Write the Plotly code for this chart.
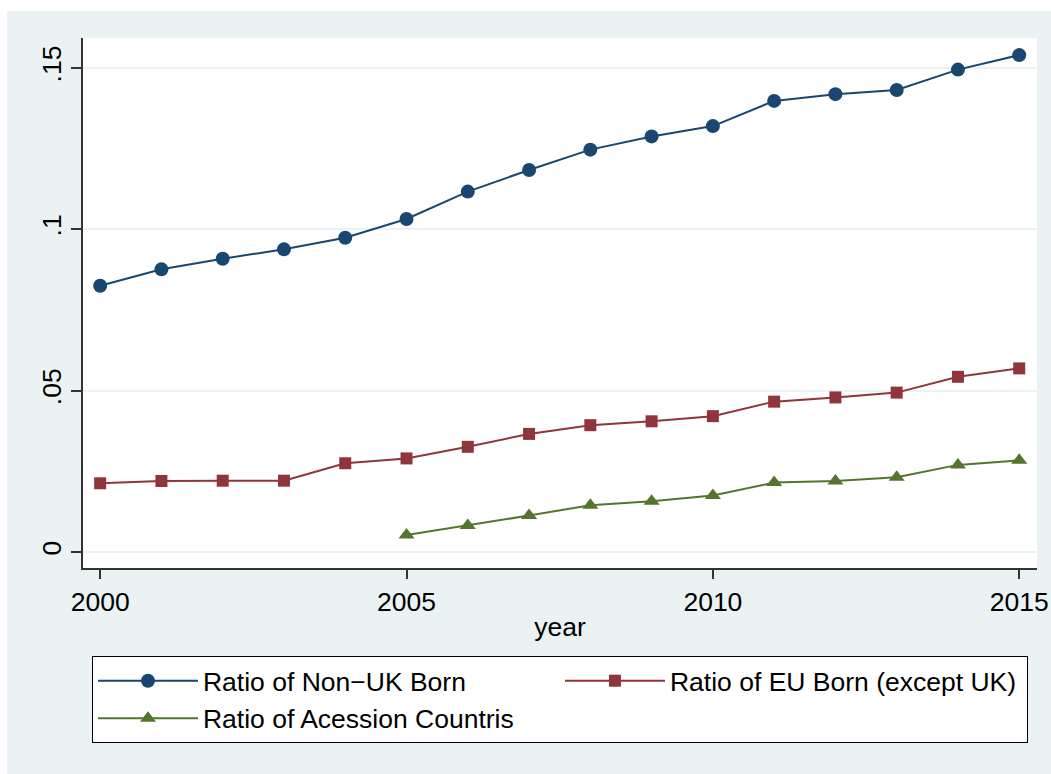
import plotly.graph_objects as go

years = list(range(2000, 2016))
non_uk = [0.0825, 0.0876, 0.0909, 0.0938, 0.0974, 0.1032, 0.1117, 0.1184,
          0.1247, 0.1288, 0.1320, 0.1398, 0.1419, 0.1432, 0.1495, 0.1540]
eu_born = [0.0213, 0.0220, 0.0221, 0.0221, 0.0275, 0.0290, 0.0326, 0.0366,
           0.0393, 0.0405, 0.0421, 0.0466, 0.0479, 0.0494, 0.0543, 0.0569]
acc_years = list(range(2005, 2016))
accession = [0.0053, 0.0082, 0.0113, 0.0145, 0.0157, 0.0175, 0.0215, 0.0220,
             0.0232, 0.0270, 0.0284]

y_tickvals = [0, 0.05, 0.1, 0.15]
y_ticktext = ["0", ".05", ".1", ".15"]
x_tickvals = [2000, 2005, 2010, 2015]

BG = "#EAF2F3"
FONT = "Liberation Sans, Arial, Helvetica, sans-serif"
FS = 26.5

fig = go.Figure()
fig.add_trace(go.Scatter(x=years, y=non_uk, mode="lines+markers",
                         name="Ratio of Non\u2212UK Born",
                         line=dict(color="#1A476F", width=2),
                         marker=dict(symbol="circle", size=14, color="#1A476F")))
fig.add_trace(go.Scatter(x=years, y=eu_born, mode="lines+markers",
                         name="Ratio of EU Born (except UK)",
                         line=dict(color="#90353B", width=2),
                         marker=dict(symbol="square", size=12, color="#90353B")))
fig.add_trace(go.Scatter(x=acc_years, y=accession, mode="lines+markers",
                         name="Ratio of Acession Countris",
                         line=dict(color="#55752F", width=2),
                         marker=dict(symbol="triangle-up", size=14, color="#55752F")))

fig.update_layout(
    width=1051, height=774,
    margin=dict(l=83, r=14, t=38, b=206, autoexpand=False),
    paper_bgcolor=BG, plot_bgcolor="white",
    font=dict(family=FONT, size=FS, color="black"),
    showlegend=True,
    legend=dict(orientation="h", x=0.0094, y=-0.166, xanchor="left", yanchor="top",
                bgcolor="white", bordercolor="black", borderwidth=1,
                itemwidth=100, entrywidth=352, entrywidthmode="pixels",
                font=dict(family=FONT, size=FS, color="black"),
                tracegroupgap=0),
    shapes=[
        dict(type="rect", xref="paper", yref="paper", layer="above",
             x0=-0.2, x1=-76/954, y0=-1, y1=1.2,
             fillcolor="white", line=dict(width=0)),
        dict(type="rect", xref="paper", yref="paper", layer="above",
             x0=-0.2, x1=1.2, y0=(568-11)/530, y1=1.2,
             fillcolor="white", line=dict(width=0)),
    ],
)

fig.update_xaxes(range=[1999.72, 2015.29], tickvals=x_tickvals, automargin=False,
                 ticks="outside", ticklen=9, tickwidth=1.5, tickcolor="#333333",
                 showline=True, linecolor="#333333", linewidth=1.5,
                 showgrid=False, zeroline=False,
                 tickfont=dict(size=FS),
                 title=dict(text="year", font=dict(size=FS), standoff=2))
fig.update_yaxes(range=[-0.00496, 0.1593], tickvals=y_tickvals, ticktext=y_ticktext,
                 tickangle=-90, automargin=False,
                 ticks="outside", ticklen=10, tickwidth=1.5, tickcolor="#333333",
                 showline=True, linecolor="#333333", linewidth=1.5,
                 showgrid=True, gridcolor=BG, gridwidth=1.5, zeroline=False,
                 tickfont=dict(size=FS))

fig.write_html("out.html")
